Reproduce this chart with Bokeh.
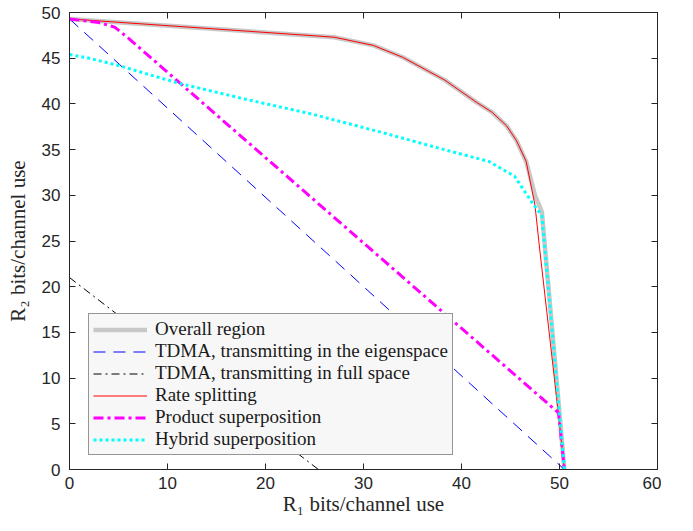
from bokeh.plotting import figure
from bokeh.layouts import row
from bokeh.models import (Legend, LegendItem, LinearAxis, FixedTicker, Range1d,
                          CustomLabelingPolicy, Spacer)
from bokeh.embed import file_html
from bokeh.resources import INLINE

# ---- data ----
overall_x = [0, 27, 31, 34, 38.3, 41.5, 43.1, 44.6, 45.6, 46.6, 47.5, 48.2, 50.5]
overall_y = [49.3, 47.3, 46.4, 45.1, 42.6, 40.2, 39.1, 37.6, 36.0, 33.7, 30.0, 28.2, 0]

tdma_eig_x = [0, 50.5]
tdma_eig_y = [49.3, 0]

tdma_full_x = [0, 25.4]
tdma_full_y = [21.0, 0]

rs_x = [0, 27, 31, 34, 38.3, 41.5, 43.1, 44.6, 45.6, 46.6, 47.5, 48.0, 49.9, 50.5]
rs_y = [49.3, 47.3, 46.4, 45.1, 42.6, 40.2, 39.1, 37.6, 36.0, 33.7, 28.9, 23.9, 6.0, 0]

prod_x = [0, 3, 4.6, 6.0, 49.9, 50.5]
prod_y = [49.3, 48.9, 48.4, 47.2, 6.2, 0]

hyb_x = [0, 2, 5, 11, 18, 24.7, 31.8, 37.2, 42.8, 45.4, 46.4, 47.4, 48.2, 50.5]
hyb_y = [45.4, 45.0, 44.2, 42.3, 40.5, 38.9, 36.9, 35.3, 33.7, 32.1, 30.5, 28.9, 27.8, 0]

x_ticks = [0, 10, 20, 30, 40, 50, 60]
y_ticks = [0, 5, 10, 15, 20, 25, 30, 35, 40, 45, 50]

labels = ["Overall region",
          "TDMA, transmitting in the eigenspace",
          "TDMA, transmitting in full space",
          "Rate splitting",
          "Product superposition",
          "Hybrid superposition"]

AX = "#262626"
SERIF = "Liberation Serif"
SANS = "Liberation Sans"

p = figure(frame_width=588, frame_height=457,
           x_range=Range1d(0, 60), y_range=Range1d(0, 50),
           output_backend="svg", toolbar_location=None,
           min_border=0)
p.background_fill_color = "white"
p.border_fill_color = "white"
p.outline_line_color = AX
p.outline_line_width = 1
p.xgrid.visible = False
p.ygrid.visible = False

for ax, tk in ((p.xaxis[0], x_ticks), (p.yaxis[0], y_ticks)):
    ax.ticker = FixedTicker(ticks=tk)
    ax.major_tick_in = 6
    ax.major_tick_out = 0
    ax.minor_tick_line_color = None
    ax.axis_line_color = AX
    ax.major_tick_line_color = AX
    ax.major_label_text_color = AX
    ax.major_label_text_font = SANS
    ax.major_label_text_font_size = "17px"
    ax.axis_label_text_font = SERIF
    ax.axis_label_text_font_style = "normal"
    ax.axis_label_text_font_size = "21px"
    ax.axis_label_text_color = AX

p.xaxis.axis_label = "R\u2081 bits/channel use"
p.yaxis.axis_label = "R\u2082 bits/channel use"
p.xaxis.major_label_standoff = 7
p.xaxis.axis_label_standoff = 0
p.yaxis.major_label_standoff = 9
p.yaxis.axis_label_standoff = 9

hide_all = CustomLabelingPolicy(code="for (const i of indices) { indices.unset(i) } return indices")
top = LinearAxis(ticker=FixedTicker(ticks=x_ticks))
right = LinearAxis(ticker=FixedTicker(ticks=y_ticks))
for ax in (top, right):
    ax.major_tick_in = 6
    ax.major_tick_out = 0
    ax.minor_tick_line_color = None
    ax.axis_line_color = AX
    ax.major_tick_line_color = AX
    ax.major_label_text_font_size = "1px"
    ax.major_label_standoff = 0
    ax.major_label_policy = hide_all
top.major_label_standoff = 8
p.add_layout(top, "above")
p.add_layout(right, "right")

r0 = p.line(overall_x, overall_y, line_color="#c8c8c8", line_width=4.5)
r1 = p.line(tdma_eig_x, tdma_eig_y, line_color="#0000ff", line_width=1, line_dash="12 8")
r2 = p.line(tdma_full_x, tdma_full_y, line_color="black", line_width=1, line_dash="8 4 2 4")
r3 = p.line(rs_x, rs_y, line_color="#ff0000", line_width=1)
r4 = p.line(prod_x, prod_y, line_color="#ff00ff", line_width=3, line_dash="10 4 3 4")
r5 = p.line(hyb_x, hyb_y, line_color="#00ffff", line_width=3, line_dash="3 3")

legend = Legend(items=[LegendItem(label=l, renderers=[r]) for l, r in
                       zip(labels, [r0, r1, r2, r3, r4, r5])],
                location=(19, 14), margin=0, padding=4, spacing=0,
                glyph_width=54, glyph_height=21, label_height=21,
                label_standoff=8,
                label_text_font=SERIF, label_text_font_size="19px",
                label_text_color="#1a1a1a",
                background_fill_color="#f7f7f7", background_fill_alpha=1,
                border_line_color="#333333", border_line_width=1)
p.add_layout(legend, "center")

page = row(Spacer(width=2), p)
open("out.html", "w").write(file_html(page, INLINE))
